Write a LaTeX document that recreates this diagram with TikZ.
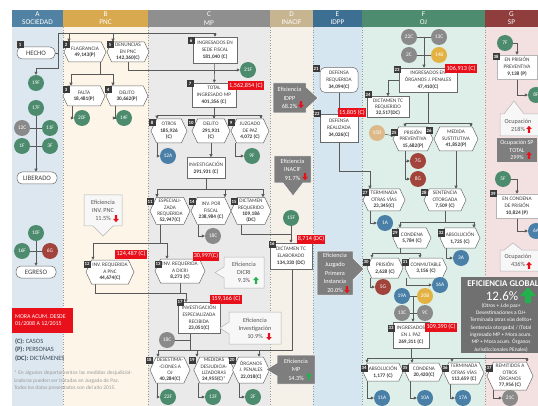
\documentclass[tikz,border=0pt]{standalone}
\usepackage{fontspec}
\setmainfont{Carlito}
\usetikzlibrary{shapes.symbols,arrows.meta,calc}
\definecolor{hdrA}{HTML}{5182A3}
\definecolor{hdrB}{HTML}{D9A94F}
\definecolor{hdrC}{HTML}{8F8F8F}
\definecolor{hdrD}{HTML}{C7B491}
\definecolor{hdrE}{HTML}{3D6F92}
\definecolor{hdrF}{HTML}{4E8C6F}
\definecolor{hdrG}{HTML}{8F3D3D}
\definecolor{bgA}{HTML}{DCE7F0}
\definecolor{bgB}{HTML}{FCF5E8}
\definecolor{bgC}{HTML}{EAEAEA}
\definecolor{bgD}{HTML}{F5F0E8}
\definecolor{bgE}{HTML}{D6E6F0}
\definecolor{bgF}{HTML}{DDEFE8}
\definecolor{bgG}{HTML}{F3E1E1}
\definecolor{cgreen}{HTML}{4D8B6E}
\definecolor{cgray}{HTML}{8A8A8A}
\definecolor{cred}{HTML}{A3443C}
\definecolor{cblue}{HTML}{4A80A8}
\definecolor{cgold}{HTML}{E3B242}
\definecolor{ctan}{HTML}{DDB98A}
\definecolor{redc}{HTML}{E8101A}
\definecolor{badgec}{HTML}{3A3A3A}
\definecolor{linec}{HTML}{595959}
\definecolor{bord}{HTML}{6A6A6A}
\definecolor{txt}{HTML}{3C3C3C}
\definecolor{calgray}{HTML}{7E7E7E}
\definecolor{calwhite}{HTML}{F7F7F7}
\definecolor{calbord}{HTML}{B5B5B5}
\definecolor{caltxt}{HTML}{555555}
\definecolor{egray}{HTML}{707070}
\definecolor{upgreen}{HTML}{22B14C}
\definecolor{sepc}{HTML}{9A9A9A}
\definecolor{legc}{HTML}{3B4B5B}
\definecolor{footc}{HTML}{9A9A9A}
\newcommand{\fsz}[2]{\fontsize{#1}{#2}\selectfont}
\newcommand{\arrdn}[2]{\fill[redc] ({#1-1.1},{#2-3.8}) rectangle ({#1+1.1},{#2}) ({#1-2.8},{#2}) -- ({#1+2.8},{#2}) -- ({#1},{#2+3.2}) -- cycle;}
\newcommand{\arrupc}[3]{\fill[#3] ({#1-1.1},{#2+3.8}) rectangle ({#1+1.1},{#2}) ({#1-2.8},{#2}) -- ({#1+2.8},{#2}) -- ({#1},{#2-3.2}) -- cycle;}
\pgfdeclarelayer{back}
\pgfdeclarelayer{lines}
\pgfsetlayers{back,lines,main}
\begin{document}
\begin{tikzpicture}[x=1pt,y=-1pt,
  every node/.style={font=\fsz{5.3}{6.4}, text=txt, inner sep=0.8pt},
  hexa/.style={signal, signal to=east and west, signal pointer angle=130, draw=bord, fill=white, line width=0.5pt, align=center},
  rbox/.style={rectangle, draw=bord, fill=white, line width=0.5pt, align=center, font=\fsz{5.3}{7.2}},
  rnd/.style={rectangle, rounded corners=5pt, draw=bord, fill=white, line width=0.5pt, align=center},
  term/.style={rnd, font=\fsz{6.8}{8}},
  circ/.style={circle, minimum size=16pt, inner sep=0pt, text=white, font=\fsz{5.4}{6}},
  badge/.style={fill=badgec, text=white, minimum size=7pt, inner sep=0pt, font=\bfseries\fsz{4.8}{5}},
  redl/.style={fill=redc, text=white, font=\fsz{6.2}{7}, inner sep=1.2pt, minimum height=9pt},
  conn/.style={draw=linec, line width=0.55pt},
  arr/.style={conn, -{Triangle[length=3pt,width=3pt]}},
  hdr/.style={text=white, font=\fsz{7.3}{8.3}, align=center},
  calD/.style={fill=calgray, draw=white, line width=0.5pt},
  calL/.style={fill=calwhite, draw=calbord, line width=0.5pt},
  calDt/.style={text=white, align=center, font=\fsz{6.2}{8.6}},
  calLt/.style={text=caltxt, align=center, font=\fsz{6.2}{8}},
]
\useasboundingbox (0,0) rectangle (538,406);
\begin{pgfonlayer}{back}
\fill[white] (0,0) rectangle (538,406);
\fill[bgA] (12,27) rectangle (63,406);
\fill[bgB] (63,27) rectangle (148,406);
\fill[bgC] (148,27) rectangle (270,406);
\fill[bgD] (270,27) rectangle (313,406);
\fill[bgE] (313,27) rectangle (362,406);
\fill[bgF] (362,27) rectangle (485,406);
\fill[bgG] (485,27) rectangle (538,406);
\fill[hdrA] (12,10) rectangle (63,27);
\fill[hdrB] (63,10) rectangle (148,27);
\fill[hdrC] (148,10) rectangle (270,27);
\fill[hdrD] (270,10) rectangle (313,27);
\fill[hdrE] (313,10) rectangle (362,27);
\fill[hdrF] (362,10) rectangle (485,27);
\fill[hdrG] (485,10) rectangle (538,27);
\foreach \x in {63,148,270,313,362,485} \draw[sepc, dotted, line width=0.6pt] (\x,27) -- (\x,406);
\end{pgfonlayer}
\node[hdr] (hA) at (37.5,18.5) {A\\SOCIEDAD};
\node[hdr] (hB) at (105.5,18.5) {B\\PNC};
\node[hdr] (hC) at (209,18.5) {C\\MP};
\node[hdr] (hD) at (291.5,18.5) {D\\INACIF};
\node[hdr] (hE) at (337.5,18.5) {E\\IDPP};
\node[hdr] (hF) at (423.5,18.5) {F\\OJ};
\node[hdr] (hG) at (511.5,18.5) {G\\SP};

% ---------- A
\node[term, minimum width=38pt, minimum height=12pt] (n1) at (36,53) {HECHO};
\node[circ, fill=cgreen] (c19F) at (36,83) {19F};
\node[circ, fill=cgreen] (c17F) at (36,108) {17F};
\node[circ, fill=cgray] (c12C) at (22,128) {12C};
\node[circ, fill=cgreen] (c11F) at (50,128) {11F};
\node[circ, fill=cgreen] (c1F) at (22,146) {1F};
\node[circ, fill=cgreen] (c3F) at (50,146) {3F};
\node[term, minimum width=40pt, minimum height=12pt] (nLib) at (37,178) {LIBERADO};
\node[circ, fill=cgreen] (c10F) at (36,233) {10F};
\node[circ, fill=cgreen] (c16F) at (22,251) {16F};
\node[circ, fill=cred] (c6G) at (50,251) {6G};
\node[term, minimum width=40pt, minimum height=12pt] (nEgr) at (36,272) {EGRESO};
\fill[redc] (12,308) rectangle (73,333);
\node[text=white, align=left, font=\fsz{5.9}{7.4}, anchor=west] (mora) at (14,320.5) {MORA ACUM. DESDE\\01/2008 A 12/2015};
\node[anchor=west, font=\fsz{6.5}{7}, text=legc] (lg1) at (14,342) {\textbf{(C):} CASOS};
\node[anchor=west, font=\fsz{6.5}{7}, text=legc] (lg2) at (14,350) {\textbf{(P):} PERSONAS};
\node[anchor=west, font=\fsz{6.5}{7}, text=legc] (lg3) at (14,358) {\textbf{(DC):} DICTÁMENES};
\node[anchor=north west, text width=118pt, align=justify, font=\fsz{5.4}{7.5}, text=footc] (foot) at (13,370) {* En algunos departamentos las medidas desjudicializadoras pueden ser tratadas en Juzgado de Paz.\\Todos los datos presentados son del año 2015.};

% ---------- B
\node[hexa, minimum width=42pt, minimum height=20pt] (n2) at (85,52) {FLAGRANCIA\\\textbf{49,143(P)}};
\node[hexa, minimum width=42pt, minimum height=20pt] (n5) at (128,52) {DENUNCIAS\\EN PNC\\\textbf{142,360(C)}};
\node[hexa, minimum width=42pt, minimum height=20pt] (n3) at (84,96) {FALTA\\\textbf{18,481(P)}};
\node[hexa, minimum width=42pt, minimum height=20pt] (n4) at (127,96) {DELITO\\\textbf{30,662(P)}};
\node[circ, fill=cgreen] (c20F) at (82,118) {20F};
\node[circ, fill=cgreen] (c14F) at (124,118) {14F};
\draw[calL] (84,195) -- (122,195) -- (122,226) -- (113,226) -- (103,236) -- (93,226) -- (84,226) -- cycle;
\node[calLt] (kPNC) at (103,210.5) {Eficiencia\\INV. PNC\\11.5\%\hspace{6pt}};
\arrdn{116}{219}
\node[hexa, minimum width=48pt, minimum height=24pt] (n12) at (110,272) {INV. REQUERIDA\\A PNC\\\textbf{44,674(C)}};

% ---------- C
\node[rbox, minimum width=44pt, minimum height=26pt] (n6) at (215,50) {INGRESADOS EN\\SEDE FISCAL\\\textbf{181,040 (C)}};
\node[circ, fill=cgreen] (c21F) at (248,70) {21F};
\node[rbox, minimum width=44pt, minimum height=24pt] (n7) at (214,95) {TOTAL\\INGRESADO MP\\\textbf{401,356 (C)}};
\node[hexa, minimum width=36pt, minimum height=24pt] (n8) at (169,131) {OTROS\\\textbf{185,926}\\\textbf{(C)}};
\node[hexa, minimum width=38pt, minimum height=24pt] (n10) at (211,131) {DELITO\\\textbf{291,931}\\\textbf{(C)}};
\node[hexa, minimum width=38pt, minimum height=24pt] (n9) at (250,131) {JUZGADO\\DE PAZ\\\textbf{4,072 (C)}};
\node[circ, fill=cblue] (c12A) at (168,156) {12A};
\node[circ, fill=cgreen] (c9F) at (252,156) {9F};
\node[rbox, minimum width=38pt, minimum height=21pt] (inv) at (206,168) {INVESTIGACIÓN\\\textbf{291,931 (C)}};
\node[hexa, minimum width=40pt, minimum height=27pt] (n11) at (170,211) {ESPECIALI-\\ZADA\\REQUERIDA\\\textbf{52,947(C)}};
\node[hexa, minimum width=40pt, minimum height=27pt] (n14) at (211,211) {INV. POR\\FISCAL\\\textbf{238,984 (C)}};
\node[hexa, minimum width=40pt, minimum height=27pt] (n15) at (251,211) {DICTAMEN\\REQUERIDO\\\textbf{109,186}\\\textbf{(DC)}};
\node[circ, fill=cgray] (c18C) at (213,236) {18C};
\node[hexa, minimum width=50pt, minimum height=24pt] (n13) at (180,271) {INV. REQUERIDA\\A DICRI\\\textbf{8,273 (C)}};
\draw[calL] (224,257) -- (264,257) -- (264,288) -- (224,288) -- (224,278) -- (215,272.5) -- (224,267) -- cycle;
\node[calLt] (kDICRI) at (244,272.5) {Eficiencia\\DICRI\\9.3\%\hspace{6pt}};
\arrupc{256}{280}{upgreen}
\node[rbox, minimum width=42pt, minimum height=31pt, font=\fsz{5.3}{6.6}] (n17) at (199,318) {INVESTIGACIÓN\\ESPECIALIZADA\\RECIBIDA\\\textbf{23,051(C)}};
\draw[calL] (229,312) -- (281,312) -- (281,344) -- (229,344) -- (229,334) -- (220,328) -- (229,322) -- cycle;
\node[calLt] (kINV) at (255,328) {Eficiencia\\Investigación\\10.9\%\hspace{6pt}};
\arrdn{269}{337}
\node[circ, fill=cgray] (c18Cb) at (167,340) {18C};
\node[hexa, minimum width=40pt, minimum height=26pt] (n18) at (170,370) {DESESTIMA-\\-CIONES A\\OJ\\\textbf{40,284(C)}};
\node[hexa, minimum width=38pt, minimum height=26pt] (n19) at (214,370) {MEDIDAS\\DESJUDICIA-\\LIZADORAS\\\textbf{24,955(C)}*};
\node[hexa, minimum width=34pt, minimum height=26pt] (n20) at (251,370) {ÓRGANOS\\J. PENALES\\\textbf{22,018(C)}};
\node[circ, fill=cgreen] (c22F) at (168,397) {22F};
\node[circ, fill=cgreen] (c13F) at (213,397) {13F};
\node[circ, fill=cgreen] (c2F) at (253,397) {2F};

% ---------- D
\draw[calD] (273,83) -- (306,83) -- (306,87) -- (318,98) -- (306,109) -- (306,113) -- (273,113) -- cycle;
\node[calDt] (kIDPP) at (289.5,98) {Eficiencia\\IDPP\\68.2\%\hspace{6pt}};
\arrdn{301}{105}
\draw[calD] (274,156) -- (311,156) -- (311,183) -- (303,183) -- (293,196) -- (283,183) -- (274,183) -- cycle;
\node[calDt] (kINACIF) at (292.5,169.5) {Eficiencia\\INACIF\\91.7\%\hspace{6pt}};
\arrdn{305}{177}
\node[circ, fill=cgreen] (c15F) at (291,218) {15F};
\node[rbox, minimum width=42pt, minimum height=26pt, font=\fsz{5.3}{6.8}] (n16) at (291,256) {DICTAMEN TC\\ELABORADO\\\textbf{134,330 (DC)}};
\draw[calD] (277,355) -- (315,355) -- (315,384) -- (277,384) -- (277,376) -- (266,369.5) -- (277,363) -- cycle;
\node[calDt] (kMP) at (296,369.5) {Eficiencia\\MP\\14.3\%\hspace{6pt}};
\arrupc{309}{376}{upgreen}

% ---------- E
\node[rnd, minimum width=38pt, minimum height=25pt, font=\fsz{5.3}{7}] (n21) at (339,80) {DEFENSA\\REQUERIDA\\\textbf{34,094(C)}};
\node[rbox, minimum width=38pt, minimum height=28pt] (n22) at (339,128) {DEFENSA\\REALIZADA\\\textbf{34,026(C)}};
\draw[calD] (317,251) -- (353,251) -- (353,258) -- (364,269) -- (353,280) -- (353,295) -- (317,295) -- cycle;
\node[calDt] (kJUZ) at (335,273) {Eficiencia\\Juzgado\\Primera\\Instancia\\20.0\%\hspace{6pt}};
\arrdn{347}{290}

% ---------- F
\node[circ, fill=cgray] (c22C) at (409,37) {22C};
\node[circ, fill=cgray] (c13C) at (439,37) {13C};
\node[circ, fill=cgray] (c2C) at (409,55) {2C};
\node[circ, fill=cgold] (c14B) at (439,55) {14B};
\node[rbox, minimum width=58pt, minimum height=24pt, font=\fsz{5.3}{6.8}] (n23) at (428,80) {INGRESADOS EN\\ÓRGANOS J. PENALES\\\textbf{47,410(C)}};
\node[rbox, minimum width=42pt, minimum height=21pt, font=\fsz{5.3}{6.3}] (n24) at (388,107) {DICTAMEN TC\\REQUERIDO\\\textbf{32,517(DC)}};
\node[circ, fill=ctan] (c15D) at (377,133) {15D};
\node[hexa, minimum width=40pt, minimum height=24pt] (n25) at (413,139) {PRISIÓN\\PREVENTIVA\\\textbf{15,682(P)}};
\node[hexa, minimum width=44pt, minimum height=24pt] (n26) at (456,139) {MEDIDA\\SUSTITUTIVA\\\textbf{41,852(P)}};
\node[circ, fill=cred] (c7G) at (418,161) {7G};
\node[circ, fill=cred] (c8G) at (418,179) {8G};
\node[hexa, minimum width=42pt, minimum height=22pt] (n27) at (384,200) {TERMINADA\\OTRAS VÍAS\\\textbf{23,345(C)}};
\node[hexa, minimum width=42pt, minimum height=22pt] (n28) at (445,200) {SENTENCIA\\OTORGADA\\\textbf{7,509 (C)}};
\node[circ, fill=cblue] (c1A) at (385,223) {1A};
\node[hexa, minimum width=38pt, minimum height=20pt] (n29) at (412,238) {CONDENA\\\textbf{5,784 (C)}};
\node[hexa, minimum width=40pt, minimum height=20pt] (n32) at (460,238) {ABSOLUCIÓN\\\textbf{1,725 (C)}};
\node[circ, fill=cblue] (c3A) at (461,258) {3A};
\node[hexa, minimum width=36pt, minimum height=20pt] (n30) at (385,268) {PRISIÓN\\\textbf{2,628 (C)}};
\node[hexa, minimum width=42pt, minimum height=20pt] (n31) at (426,268) {CONMUTABLE\\\textbf{3,156 (C)}};
\node[circ, fill=cred] (c5G) at (383,287) {5G};
\node[circ, fill=cblue] (c16A) at (440,285) {16A};
\node[circ, fill=cblue] (c19A) at (402,296) {19A};
\node[circ, fill=cgold] (c20B) at (425,296) {20B};
\node[circ, fill=cgray] (c13Cb) at (402,313) {13C};
\node[circ, fill=cgray] (c9C) at (425,313) {9C};
\node[rbox, minimum width=36pt, minimum height=26pt, font=\fsz{5.3}{6.8}] (n33) at (411,335) {INGRESADOS\\EN J. PAZ\\\textbf{269,311 (C)}};
\node[hexa, minimum width=40pt, minimum height=18pt] (n34) at (383,372) {ABSOLUCIÓN\\\textbf{1,177 (C)}};
\node[hexa, minimum width=38pt, minimum height=18pt] (n35) at (424,372) {CONDENA\\\textbf{20,420(C)}};
\node[hexa, minimum width=40pt, minimum height=22pt] (n36) at (464,373) {TERMINADA\\OTRAS VÍAS\\\textbf{113,659 (C)}};
\node[hexa, minimum width=46pt, minimum height=28pt] (n37) at (510,376) {REMITIDOS A\\OTROS\\ÓRGANOS\\\textbf{77,956 (C)}};
\node[circ, fill=cblue] (c11A) at (382,398) {11A};
\node[circ, fill=cblue] (c10A) at (425,398) {10A};
\node[circ, fill=cblue] (c17A) at (463,398) {17A};
\node[circ, fill=cgray] (c21C) at (510,398) {21C};
\fill[egray] (461,277) rectangle (545,353);
\node[text=white, font=\bfseries\fsz{8.8}{9}] (gT) at (503,283.5) {EFICIENCIA GLOBAL};
\node[text=white, font=\fsz{13}{14}] (gV) at (502,296) {12.6\%};
\fill[upgreen] (525,303) rectangle (531,296) (520,296) -- (536,296) -- (528,287) -- cycle;
\node[text=white, align=center, font=\fsz{5.4}{7.3}] (gD) at (501,327.5) {(Otros + J.de paz+\\Desestimaciones a OJ+\\Terminada otras vías delito+\\Sentencia otorgada) / (Total\\ingresado MP + Mora acum.\\MP + Mora acum. Órganos\\Jurisdiccionales PEnales)};

% ---------- G
\node[circ, fill=cgreen] (c7F) at (505,43) {7F};
\node[rbox, draw=calbord, minimum width=40pt, minimum height=24pt, font=\fsz{5.3}{7}] (n38) at (517,67) {EN PRISIÓN\\PREVENTIVA\\\textbf{9,138 (P)}};
\node[circ, fill=cgreen] (c8F) at (536,95) {8F};
\draw[calL] (500,114) -- (504,114) -- (514,101) -- (524,114) -- (540,114) -- (540,136) -- (500,136) -- cycle;
\node[calLt] (kO1) at (518,125) {Ocupación\\218\%\hspace{6pt}};
\arrupc{529}{129}{redc}
\fill[calgray] (497,138) rectangle (537,162);
\node[calDt, font=\fsz{6}{7.3}] (kO2) at (517,150) {Ocupación SP\\TOTAL\\299\%\hspace{6pt}};
\arrupc{529}{155}{redc}
\node[circ, fill=cgreen] (c5F) at (503,179) {5F};
\node[rbox, draw=calbord, minimum width=42pt, minimum height=24pt, font=\fsz{5.3}{7}] (n39) at (517,206) {EN CONDENA\\DE PRISIÓN\\\textbf{10,824 (P)}};
\node[circ, fill=cblue] (c6A) at (536,231) {6A};
\draw[calL] (500,250) -- (504,250) -- (513,243) -- (522,250) -- (540,250) -- (540,271) -- (500,271) -- cycle;
\node[calLt] (kO3) at (518,260.5) {Ocupación\\436\%\hspace{6pt}};
\arrupc{529}{265}{redc}

% ---------- red labels and badges
\node[redl] (r7) at (246,86) {1,562,854 (C)};
\node[redl] (r12) at (131,254) {124,487 (C)};
\node[redl] (r13) at (206,256) {30,997(C)};
\node[redl] (r17) at (226,299) {159,166 (C)};
\node[redl] (r16) at (311,239) {8,714 (DC)};
\node[redl] (r22) at (352,113) {15,805 (C)};
\node[redl] (r23) at (461,69) {106,913 (C)};
\node[redl] (r33) at (441,327) {109,390 (C)};
\foreach \n/\x/\y in {1/20/45, 2/66/45, 5/110/45, 3/66/90, 4/108/90, 6/191/41, 7/190/84, 8/152/123, 10/191/123, 9/231/123,
  11/150/202, 14/192/202, 15/234/202, 12/87/264, 13/158/264, 17/180/302, 18/149/360, 19/192/360, 20/232/360,
  16/272/244, 21/316/69, 22/317/114, 23/397/70, 24/368/95, 25/394/133, 26/429/131, 27/365/193, 28/424/193,
  29/395/233, 32/441/233, 30/366/262, 31/405/262, 33/391/328, 34/364/368, 35/405/368, 36/445/368, 37/489/368,
  38/496/57, 39/493/194}
  \node[badge] (bd\n) at (\x,\y) {\n};

% ---------- connectors
\begin{pgfonlayer}{lines}
\coordinate (a0) at (58,33); \coordinate (a1) at (58,68); \coordinate (a2) at (36,68);
\coordinate (t2) at (69,33); \coordinate (t5) at (113,33); \coordinate (t6) at (215,33);
\draw[conn] (n1.east) -- (n1.east -| a0);
\draw[conn] (t6) -- (a0) -- (a1) -- (a2);
\draw[arr] (a2) -- (c19F.north);
\draw[arr] (t2) -- (t2 |- n2.north);
\draw[arr] (t5) -- (t5 |- n5.north);
\draw[arr] (t6) -- (n6.north);
\draw[conn] (c12C) -- (c11F);
\draw[conn] (c1F) -- (c3F);
\draw[arr] (c17F) -- (c17F |- nLib.north);
\draw[conn] (c16F) -- (c6G);
\draw[arr] (c10F) -- (nEgr.north);
% B
\coordinate (j2) at (100,74); \coordinate (j3) at (71,74); \coordinate (j4) at (113,74);
\draw[conn] (j2 |- n2.south) -- (j2);
\draw[conn] (j3) -- (j4);
\draw[arr] (j3) -- (j3 |- n3.north);
\draw[arr] (j4) -- (j4 |- n4.north);
\draw[arr] ([xshift=-12pt]n3.south) |- (c20F);
\draw[arr] ([xshift=-12pt]n4.south) |- (c14F);
\draw[arr] (n5.south) |- (c21F);
% C
\draw[arr] (n6) -- (n7);
\coordinate (b7) at (214,115); \coordinate (b7l) at (157,115); \coordinate (b7r) at (261,115);
\draw[conn] (n7.south) -- (b7);
\draw[conn] (b7l) -- (b7r);
\draw[arr] (b7l) -- (b7l |- n8.north);
\draw[arr] (b7) -- (b7 |- n10.north);
\draw[arr] (b7r) -- (b7r |- n9.north);
\draw[arr] ([xshift=-12pt]n8.south) |- (c12A);
\draw[arr] ([xshift=-15pt]n9.south) |- (c9F);
\draw[arr] (n10.south) -- (n10.south |- inv.north);
\coordinate (b9) at (206,189); \coordinate (b9l) at (157,189); \coordinate (b9m) at (225,189); \coordinate (b9r) at (263,189);
\draw[conn] (inv.south) -- (b9);
\draw[conn] (b9l) -- (b9r);
\draw[arr] (b9l) -- (b9l |- n11.north);
\draw[arr] (b9m) -- (b9m |- n14.north);
\draw[arr] (b9r) -- (b9r |- n15.north);
\draw[arr] ([xshift=-13pt]n14.south) |- (c18C);
\coordinate (d15) at (291,234);
\draw[conn] ([xshift=-10pt]n15.south) |- (d15);
\draw[conn] (c15F) -- (d15);
\draw[arr] (d15) -- (n16.north);
\coordinate (e0) at (160,243); \coordinate (e1) at (93,243); \coordinate (e2) at (167,243);
\draw[conn] (e0 |- n11.south) -- (e0);
\draw[conn] (e1) -- (e2);
\draw[arr] (e1) -- (e1 |- n12.north);
\draw[arr] (e2) -- (e2 |- n13.north);
\coordinate (f1) at (95,293); \coordinate (f2) at (186,293);
\draw[conn] (f1 |- n12.south) -- (f1) -- (f2);
\draw[conn] (n13.south) -- (n13.south |- f1);
\draw[arr] (f2) -- (f2 |- n17.north);
\coordinate (g0) at (190,350); \coordinate (g1) at (158,350); \coordinate (g2) at (197,350); \coordinate (g3) at (259,350); \coordinate (h16) at (292,350);
\draw[conn] (g0 |- n17.south) -- (g0);
\draw[conn] (c18Cb) -- (c18Cb -| g0);
\draw[conn] (n16.south -| h16) -- (h16) -- (g1);
\draw[arr] (g1) -- (g1 |- n18.north);
\draw[arr] (g2) -- (g2 |- n19.north);
\draw[arr] (g3) -- (g3 |- n20.north);
\draw[arr] ([xshift=-13pt]n18.south) |- (c22F);
\draw[arr] ([xshift=-16pt]n19.south) |- (c13F);
\draw[arr] ([xshift=-12pt]n20.south) |- (c2F);
% E
\draw[arr] (n21.south) -- (n22.north);
\coordinate (p1) at (339,171); \coordinate (p2) at (370,171);
\draw[conn] (n22.south) -- (p1) -- (p2);
\draw[arr] (p2) -- (p2 |- n27.north);
% F
\draw[conn] (c22C) -- (c13C);
\draw[conn] (c2C) -- (c14B);
\coordinate (q0) at (424,37);
\draw[arr] (q0) -- (q0 |- n23.north);
\draw[arr] (n23.west) -| (n24.north);
\coordinate (r0) at (428,123); \coordinate (r1) at (405,123); \coordinate (r2) at (471,123);
\draw[conn] (n23.south -| r0) -- (r0);
\draw[conn] (r1) -- (r2);
\draw[arr] (r1) -- (r1 |- n25.north);
\draw[arr] (r2) -- (r2 |- n26.north);
\draw[arr] (c15D) -- (n25);
\draw[arr] (n26.south) -- (n26.south |- n28.north);
\draw[arr] ([xshift=-8pt]n25.south) |- (c7G);
\draw[arr] ([xshift=-8pt]n25.south) |- (c8G);
\draw[arr] ([xshift=-14pt]n27.south) |- (c1A);
\coordinate (u0) at (445,222); \coordinate (u1) at (400,222); \coordinate (u2) at (474,222);
\draw[conn] (n28.south) -- (u0);
\draw[conn] (u1) -- (u2);
\draw[arr] (u1) -- (u1 |- n29.north);
\draw[arr] (u2) -- (u2 |- n32.north);
\draw[arr] ([xshift=-14pt]n32.south) |- (c3A);
\coordinate (x0) at (400,253); \coordinate (x1) at (372,253); \coordinate (x2) at (420,253);
\draw[conn] (x0 |- n29.south) -- (x0);
\draw[conn] (x1) -- (x2);
\draw[arr] (x1) -- (x1 |- n30.north);
\draw[arr] (x2) -- (x2 |- n31.north);
\draw[arr] ([xshift=-15pt]n30.south) |- (c5G);
\draw[arr] ([xshift=-20pt]n31.south) |- (c16A);
\draw[conn] (c19A) -- (c20B);
\draw[conn] (c13Cb) -- (c9C);
\coordinate (v0) at (413,296);
\draw[arr] (v0) -- (v0 |- n33.north);
\coordinate (w0) at (411,358); \coordinate (w1) at (367,358); \coordinate (w2) at (412,358); \coordinate (w3) at (452,358); \coordinate (w4) at (527,358);
\draw[conn] (n33.south) -- (w0);
\draw[conn] (w1) -- (w4);
\draw[arr] (w1) -- (w1 |- n34.north);
\draw[arr] (w2) -- (w2 |- n35.north);
\draw[arr] (w3) -- (w3 |- n36.north);
\draw[arr] (w4) -- (w4 |- n37.north);
\draw[arr] ([xshift=-16pt]n34.south) |- (c11A);
\draw[arr] ([xshift=-14pt]n35.south) |- (c10A);
\draw[arr] ([xshift=-14pt]n36.south) |- (c17A);
\draw[arr] ([xshift=-17pt]n37.south) |- (c21C);
% G
\draw[arr] (c7F) -| (n38.north);
\draw[arr] (n38.south) |- (c8F);
\draw[arr] (c5F) -| (n39.north);
\draw[arr] (n39.south) |- (c6A);
\end{pgfonlayer}
\end{tikzpicture}
\end{document}
